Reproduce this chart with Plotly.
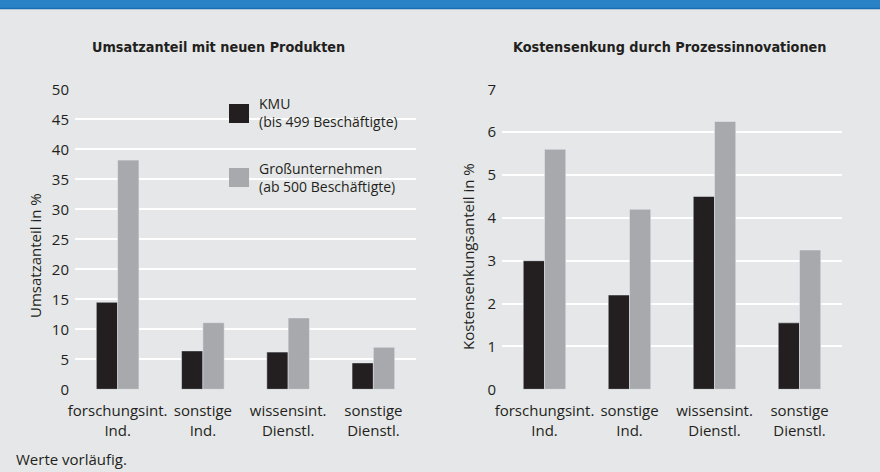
import plotly.graph_objects as go

categories = ["forschungsint.<br>Ind.", "sonstige<br>Ind.", "wissensint.<br>Dienstl.", "sonstige<br>Dienstl."]
series_names = ["KMU", "Großunternehmen"]
legend_lines = ["KMU<br>(bis 499 Beschäftigte)", "Großunternehmen<br>(ab 500 Beschäftigte)"]
umsatz_kmu = [14.5, 6.4, 6.2, 4.4]
umsatz_gross = [38.2, 11.1, 11.9, 7.0]
kosten_kmu = [3.0, 2.2, 4.5, 1.55]
kosten_gross = [5.6, 4.2, 6.25, 3.25]
umsatz_ticks = [0, 5, 10, 15, 20, 25, 30, 35, 40, 45, 50]
kosten_ticks = [0, 1, 2, 3, 4, 5, 6, 7]
title_left = "Umsatzanteil mit neuen Produkten"
title_right = "Kostensenkung durch Prozessinnovationen"
ytitle_left = "Umsatzanteil in %"
ytitle_right = "Kostensenkungsanteil in %"
note = "Werte vorläufig."

W, H = 880, 472
BLACK = "#231f20"
GREY = "#a7a9ac"
BG = "#e6e7e8"
TXT = "#231f20"
FONT = "Open Sans"
TITLE_FONT = "DejaVu Sans Condensed, Roboto Condensed, Roboto"

def px(x):
    return x / W

def py(y):
    return 1 - y / H

fig = go.Figure()
fig.add_bar(x=categories, y=umsatz_kmu, name=series_names[0], marker_color=BLACK,
            xaxis="x", yaxis="y", showlegend=False)
fig.add_bar(x=categories, y=umsatz_gross, name=series_names[1], marker_color=GREY,
            xaxis="x", yaxis="y", showlegend=False)
fig.add_bar(x=categories, y=kosten_kmu, name=series_names[0], marker_color=BLACK,
            xaxis="x2", yaxis="y2", showlegend=False)
fig.add_bar(x=categories, y=kosten_gross, name=series_names[1], marker_color=GREY,
            xaxis="x2", yaxis="y2", showlegend=False)

ydom = [py(389.3), py(89.3)]
axis_common = dict(showline=False, zeroline=False, ticks="", automargin=False,
                   tickfont=dict(family=FONT, size=15, color=TXT))
fig.update_layout(
    width=W, height=H, autosize=False,
    margin=dict(l=0, r=0, t=0, b=0, pad=0),
    paper_bgcolor=BG, plot_bgcolor=BG,
    barmode="group", bargap=0.5, bargroupgap=0,
    font=dict(family=FONT, color=TXT),
    hovermode=False,
    xaxis=dict(domain=[px(75), px(416)], anchor="y", showgrid=False, ticklabelstandoff=11, **axis_common),
    yaxis=dict(domain=ydom, anchor="x", range=[0, 50], tickvals=umsatz_ticks,
               showgrid=True, gridcolor="white", gridwidth=2, ticklabelstandoff=5, **axis_common),
    xaxis2=dict(domain=[px(502), px(842)], anchor="y2", showgrid=False, ticklabelstandoff=11, **axis_common),
    yaxis2=dict(domain=ydom, anchor="x2", range=[0, 7], tickvals=kosten_ticks,
                showgrid=True, gridcolor="white", gridwidth=2, ticklabelstandoff=5, **axis_common),
)

shapes = [
    dict(type="rect", xref="paper", yref="paper", x0=0, x1=1, y0=py(9), y1=1,
         fillcolor="#2a82c6", line_width=0, layer="above"),
    dict(type="line", xref="paper", yref="paper", x0=0, x1=1, y0=py(8.5), y1=py(8.5),
         line=dict(color="#1a6cb3", width=1.5), layer="above"),
    dict(type="rect", xref="paper", yref="paper", x0=px(229), x1=px(249), y0=py(123), y1=py(104),
         fillcolor=BLACK, line_width=0),
    dict(type="rect", xref="paper", yref="paper", x0=px(229), x1=px(249), y0=py(187), y1=py(168),
         fillcolor=GREY, line_width=0),
]
fig.update_layout(shapes=shapes)

ann = [
    dict(text=f"<b>{title_left}</b>", x=px(218), y=py(47), xref="paper", yref="paper",
         showarrow=False, xanchor="center", yanchor="middle",
         font=dict(family=TITLE_FONT, size=14.3, color=TXT)),
    dict(text=f"<b>{title_right}</b>", x=px(670), y=py(47), xref="paper", yref="paper",
         showarrow=False, xanchor="center", yanchor="middle",
         font=dict(family=TITLE_FONT, size=14.3, color=TXT)),
    dict(text=ytitle_left, x=px(35), y=py(256), xref="paper", yref="paper", textangle=-90,
         showarrow=False, xanchor="center", yanchor="middle",
         font=dict(family=FONT, size=15, color=TXT)),
    dict(text=ytitle_right, x=px(468), y=py(257), xref="paper", yref="paper", textangle=-90,
         showarrow=False, xanchor="center", yanchor="middle",
         font=dict(family=FONT, size=15, color=TXT)),
    dict(text=legend_lines[0], x=px(257), y=py(112), xref="paper", yref="paper", align="left",
         showarrow=False, xanchor="left", yanchor="middle",
         font=dict(family=FONT, size=14, color=TXT)),
    dict(text=legend_lines[1], x=px(257), y=py(177), xref="paper", yref="paper", align="left",
         showarrow=False, xanchor="left", yanchor="middle",
         font=dict(family=FONT, size=14, color=TXT)),
    dict(text=note, x=px(14), y=py(459), xref="paper", yref="paper",
         showarrow=False, xanchor="left", yanchor="middle",
         font=dict(family=FONT, size=15, color=TXT)),
]
fig.update_layout(annotations=ann)

fig.write_html("out.html", config={"displayModeBar": False, "staticPlot": True},
               post_script="document.body.style.margin='0';document.body.style.overflow='hidden';")
